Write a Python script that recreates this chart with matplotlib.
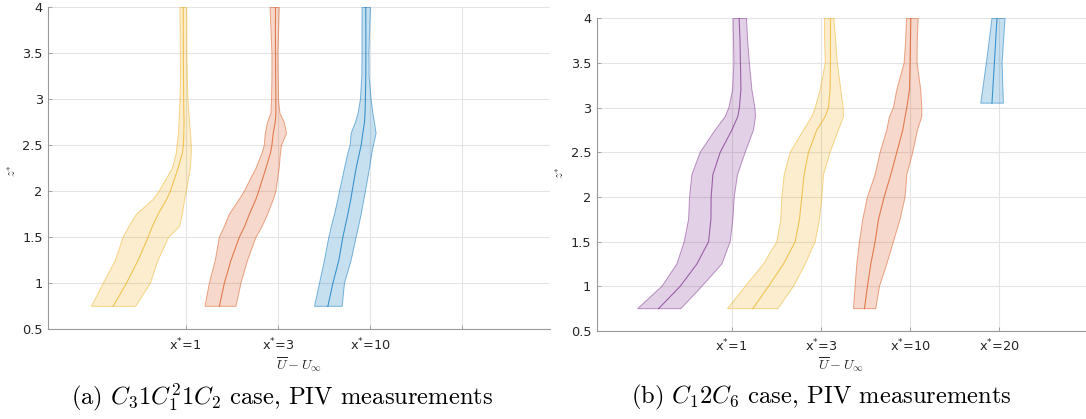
import numpy as np
import matplotlib
matplotlib.use("Agg")
import matplotlib.pyplot as plt

# wake velocity-deficit profiles, plotted at their downstream station slots
# each profile: left edge, mean, right edge of the band (offset from its slot)

# ---- (a) C3 1 C1^2 1 C2 case ----
z_a = [0.75, 1.0, 1.25, 1.5, 1.62, 1.75, 1.91, 2.0, 2.25, 2.42, 2.5, 2.63, 2.75, 2.85,
       3.0, 3.25, 3.5, 3.75, 4.0]

a_x1_lo = [-1.022, -0.895, -0.762, -0.679, -0.614, -0.534, -0.354, -0.289, -0.144, -0.101,
           -0.094, -0.078, -0.072, -0.068, -0.062, -0.055, -0.058, -0.06, -0.062]
a_x1_mid = [-0.787, -0.643, -0.516, -0.408, -0.361, -0.300, -0.209, -0.166, -0.083, -0.035,
            -0.025, -0.02, -0.018, -0.02, -0.022, -0.024, -0.025, -0.026, -0.026]
a_x1_hi = [-0.542, -0.383, -0.300, -0.185, -0.065, -0.036, -0.011, 0.007, 0.051, 0.061,
           0.061, 0.052, 0.043, 0.035, 0.025, 0.017, 0.013, 0.012, 0.011]

a_x3_lo = [-0.791, -0.744, -0.679, -0.635, -0.58, -0.527, -0.42, -0.365, -0.238, -0.17,
           -0.148, -0.137, -0.112, -0.076, -0.069, -0.065, -0.065, -0.075, -0.085]
a_x3_mid = [-0.635, -0.581, -0.509, -0.419, -0.36, -0.310, -0.24, -0.209, -0.130, -0.08,
            -0.065, -0.051, -0.029, -0.022, -0.022, -0.025, -0.026, -0.027, -0.026]
a_x3_hi = [-0.455, -0.401, -0.329, -0.238, -0.17, -0.112, -0.05, -0.022, 0.014, 0.028,
           0.040, 0.094, 0.069, 0.022, 0.006, 0.003, 0.0, 0.008, 0.015]

a_x10_lo = [-0.603, -0.549, -0.495, -0.448, -0.42, -0.386, -0.35, -0.332, -0.278, -0.24,
            -0.217, -0.206, -0.159, -0.13, -0.105, -0.09, -0.088, -0.088, -0.087]
a_x10_mid = [-0.458, -0.404, -0.339, -0.296, -0.27, -0.242, -0.21, -0.195, -0.152, -0.115,
             -0.097, -0.079, -0.061, -0.055, -0.051, -0.047, -0.046, -0.046, -0.047]
a_x10_hi = [-0.303, -0.278, -0.206, -0.152, -0.125, -0.097, -0.068, -0.051, -0.007, 0.02,
            0.036, 0.065, 0.047, 0.03, 0.011, -0.01, -0.012, -0.005, 0.004]

ticks_a = [1, 2, 3, 4]
labels_a = ["x$^{\\mathregular{*}}$=1", "x$^{\\mathregular{*}}$=3", "x$^{\\mathregular{*}}$=10", ""]

# ---- (b) C1 2 C6 case ----
z_b = [0.75, 1.0, 1.25, 1.5, 1.75, 2.0, 2.25, 2.5, 2.75, 2.9, 3.0, 3.2, 3.5, 3.75, 4.0]

b_x1_lo = [-1.052, -0.780, -0.612, -0.530, -0.481, -0.470, -0.444, -0.351, -0.183, -0.071,
           -0.03, 0.012, 0.026, 0.022, 0.018]
b_x1_mid = [-0.817, -0.575, -0.388, -0.257, -0.231, -0.228, -0.209, -0.127, 0.004, 0.070,
            0.088, 0.105, 0.10, 0.095, 0.085]
b_x1_hi = [-0.567, -0.332, -0.108, -0.015, 0.015, 0.030, 0.067, 0.153, 0.246, 0.268,
           0.262, 0.228, 0.20, 0.18, 0.168]

b_x3_lo = [-1.045, -0.847, -0.642, -0.493, -0.448, -0.437, -0.410, -0.343, -0.194, -0.101,
           -0.063, -0.007, 0.05, 0.042, 0.042]
b_x3_mid = [-0.761, -0.586, -0.418, -0.287, -0.239, -0.213, -0.187, -0.138, -0.045, 0.049,
            0.086, 0.104, 0.108, 0.108, 0.108]
b_x3_hi = [-0.481, -0.306, -0.175, -0.063, -0.015, 0.011, 0.030, 0.104, 0.198, 0.254,
           0.250, 0.224, 0.185, 0.166, 0.147]

b_x10_lo = [-0.634, -0.616, -0.597, -0.567, -0.530, -0.478, -0.392, -0.336, -0.261, -0.231,
            -0.187, -0.149, -0.067, -0.05, -0.04]
b_x10_mid = [-0.511, -0.478, -0.440, -0.392, -0.354, -0.291, -0.216, -0.149, -0.082, -0.056,
             -0.037, -0.007, 0.0, 0.004, 0.008]
b_x10_hi = [-0.384, -0.343, -0.261, -0.187, -0.112, -0.056, -0.037, 0.030, 0.082, 0.131,
            0.131, 0.119, 0.078, 0.08, 0.09]

z_b20 = [3.05, 3.5, 4.0]
b_x20_lo = [-0.209, -0.146, -0.083]
b_x20_mid = [-0.083, -0.056, -0.027]
b_x20_hi = [0.045, 0.03, 0.063]

ticks_b = [1, 2, 3, 4]
labels_b = ["x$^{\\mathregular{*}}$=1", "x$^{\\mathregular{*}}$=3", "x$^{\\mathregular{*}}$=10", "x$^{\\mathregular{*}}$=20"]

yticks = [0.5, 1, 1.5, 2, 2.5, 3, 3.5, 4]
ylabels = ["0.5", "1", "1.5", "2", "2.5", "3", "3.5", "4"]

# matlab default line colours
BLUE = (0.0, 0.447, 0.741)
ORANGE = (0.850, 0.325, 0.098)
YELLOW = (0.929, 0.694, 0.125)
PURPLE = (0.494, 0.184, 0.556)

W, H = 1086, 419
fig = plt.figure(figsize=(W / 100, H / 100), dpi=100)


def box(l, r, t, b):
    return [l / W, (H - b) / H, (r - l) / W, (b - t) / H]


def band(ax, pos, z, lo, mid, hi, c):
    z = np.asarray(z)
    lo = np.asarray(lo) + pos
    hi = np.asarray(hi) + pos
    mid = np.asarray(mid) + pos
    ax.fill(np.r_[lo, hi[::-1]], np.r_[z, z[::-1]],
            facecolor=(*c, 0.22), edgecolor=(*c, 0.5), lw=0.7, zorder=2)
    ax.plot(mid, z, color=c, alpha=0.7, lw=0.8, zorder=3)


def style(ax, xlim, ticks, labels):
    ax.set_xlim(*xlim)
    ax.set_ylim(0.5, 4)
    ax.set_xticks(ticks)
    ax.set_xticklabels(labels)
    ax.set_yticks(yticks)
    ax.set_yticklabels(ylabels)
    ax.grid(True, color="#e4e4e4", lw=0.8, zorder=0)
    ax.set_axisbelow(True)
    for s in ["top", "right"]:
        ax.spines[s].set_visible(False)
    for s in ["left", "bottom"]:
        ax.spines[s].set_color("#999999")
        ax.spines[s].set_linewidth(0.8)
    ax.tick_params(direction="in", length=3, width=0.6, color="#999999",
                   labelcolor="#262626", labelsize=9.3)
    ax.tick_params(axis="x", pad=5)
    ax.tick_params(axis="y", pad=4)


ax1 = fig.add_axes(box(48.3, 550, 7.3, 329.3))
band(ax1, 1, z_a, a_x1_lo, a_x1_mid, a_x1_hi, YELLOW)
band(ax1, 2, z_a, a_x3_lo, a_x3_mid, a_x3_hi, ORANGE)
band(ax1, 3, z_a, a_x10_lo, a_x10_mid, a_x10_hi, BLUE)
style(ax1, (-0.49, 4.951), ticks_a, labels_a)

ax2 = fig.add_axes(box(596.7, 1086, 18.3, 331))
band(ax2, 1, z_b, b_x1_lo, b_x1_mid, b_x1_hi, PURPLE)
band(ax2, 2, z_b, b_x3_lo, b_x3_mid, b_x3_hi, YELLOW)
band(ax2, 3, z_b, b_x10_lo, b_x10_mid, b_x10_hi, ORANGE)
band(ax2, 4, z_b20, b_x20_lo, b_x20_mid, b_x20_hi, BLUE)
style(ax2, (-0.51, 4.97), ticks_b, labels_b)

# axis titles (latex-style maths)
for xc, yc in [(12, 171), (560, 173)]:
    fig.text(xc / W, 1 - yc / H, "$z^{*}$", rotation=90, ha="center", va="center",
             fontsize=9, color="#262626", math_fontfamily="cm")
for xc in [299, 841]:
    fig.text(xc / W, 1 - 365 / H, "$\\overline{U} - U_{\\infty}$", ha="center", va="center",
             fontsize=10, color="#262626", math_fontfamily="cm")

# sub-figure captions
fig.text(282 / W, 1 - 397 / H, "(a) $C_31C_1^21C_2$ case, PIV measurements",
         ha="center", va="center", fontsize=17.7, family="cmr10", math_fontfamily="cm")
fig.text(821 / W, 1 - 397 / H, "(b) $C_12C_6$ case, PIV measurements",
         ha="center", va="center", fontsize=17.7, family="cmr10", math_fontfamily="cm")

fig.savefig("out.png", dpi=100)
